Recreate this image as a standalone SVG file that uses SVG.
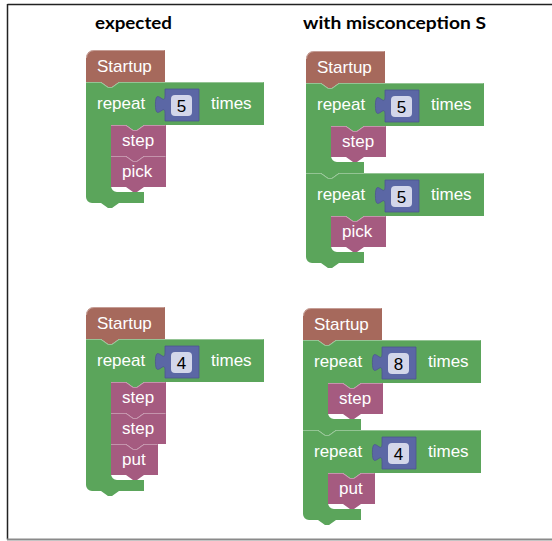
<svg xmlns="http://www.w3.org/2000/svg" xmlns:xlink="http://www.w3.org/1999/xlink" width="552" height="541" viewBox="0 0 552 541">
<style>
.hdr{font-family:Lato,"Liberation Sans",Arial,sans-serif;font-weight:bold;font-size:17px;fill:#000}
.lbl{font-family:"Liberation Sans",Arial,sans-serif;font-size:17px;fill:#fff}
.num{font-family:"Liberation Sans",Arial,sans-serif;font-size:17px;fill:#000;text-anchor:middle}
.start{fill:#a6695c}
.loop{fill:#5ba55b}
.stmt{fill:#a55b80}
.inp{fill:#5b67a5;stroke:#4c5690;stroke-width:0.8}
.fld{fill:#d3d6ea}
.hl{fill:none;stroke:#ffffff;stroke-opacity:0.35;stroke-width:1}
.frame{stroke:#222;stroke-width:1.5;fill:none}
</style>
<defs>
<path id="startup" d="M0,8 A8,8 0 0 1 8,0 H79 V32 H33 l-7,5 -4,0 -7,-5 H0 Z"/>
<path id="startup-hl" d="M0.5,8 A7.5,7.5 0 0 1 8,0.5 H78.5"/>
<path id="stmt55" d="M0,0 H15 l7,5 4,0 7,-5 H55 V31 H33 l-7,5 -4,0 -7,-5 H0 Z"/>
<path id="stmt55-hl" d="M0,0.5 H15 l7,5 4,0 7,-5 H54.5"/>
<path id="stmt47" d="M0,0 H15 l7,5 4,0 7,-5 H47 V31 H33 l-7,5 -4,0 -7,-5 H0 Z"/>
<path id="stmt47-hl" d="M0,0.5 H15 l7,5 4,0 7,-5 H46.5"/>
<path id="rep1" d="M0,0 H15 l7,5 4,0 7,-5 H178 V43 H58 l-7,5 -4,0 -7,-5 H25 V73 A6,6 0 0 0 31,79 H58 V90 H33 l-7,5 -4,0 -7,-5 H0 Z"/>
<path id="rep1r" d="M0,0 H15 l7,5 4,0 7,-5 H178 V43 H58 l-7,5 -4,0 -7,-5 H25 V73 A6,6 0 0 0 31,79 H58 V90 H33 l-7,5 -4,0 -7,-5 H6 A6,6 0 0 1 0,84 Z"/>
<path id="rep2r" d="M0,0 H15 l7,5 4,0 7,-5 H178 V43 H58 l-7,5 -4,0 -7,-5 H25 V104 A6,6 0 0 0 31,110 H58 V121 H33 l-7,5 -4,0 -7,-5 H6 A6,6 0 0 1 0,115 Z"/>
<path id="rep3r" d="M0,0 H15 l7,5 4,0 7,-5 H178 V43 H58 l-7,5 -4,0 -7,-5 H25 V135 A6,6 0 0 0 31,141 H58 V152 H33 l-7,5 -4,0 -7,-5 H6 A6,6 0 0 1 0,146 Z"/>
<path id="rep-hl" d="M0,0.5 H15 l7,5 4,0 7,-5 H177.5"/>
<path id="input" d="M79,39 V31.5 c0,-12 -9.6,9.6 -9.6,-9 s9.6,3 9.6,-9 V7 H113 V39 Z"/>
</defs>

<g id="frame">
<line class="frame" x1="7.5" y1="4.5" x2="552" y2="4.5"/>
<line class="frame" x1="7.5" y1="4" x2="7.5" y2="539.5"/>
<line x1="7" y1="539.5" x2="552" y2="539.5" stroke="#8a8a8a" stroke-width="2"/>
</g>

<g id="headers">
<text class="hdr" x="95" y="29" textLength="77" lengthAdjust="spacingAndGlyphs">expected</text>
<text class="hdr" x="303" y="29" textLength="183" lengthAdjust="spacingAndGlyphs">with misconception S</text>
</g>

<!-- Top-left: expected -->
<g id="tl-startup" transform="translate(86,50)">
<use href="#startup" class="start"/><use href="#startup-hl" class="hl"/>
<text class="lbl" x="11" y="22">Startup</text>
</g>
<g id="tl-repeat" transform="translate(86,82)">
<use href="#rep2r" class="loop"/><use href="#rep-hl" class="hl"/>
<text class="lbl" x="11" y="26.5">repeat</text>
<use href="#input" class="inp"/>
<rect class="fld" x="85" y="13" width="21" height="21" rx="4"/>
<text class="num" x="95.5" y="29.5">5</text>
<text class="lbl" x="125" y="26.5">times</text>
</g>
<g id="tl-step" transform="translate(111,125)">
<use href="#stmt55" class="stmt"/><use href="#stmt55-hl" class="hl"/>
<text class="lbl" x="11" y="21">step</text>
</g>
<g id="tl-pick" transform="translate(111,156)">
<use href="#stmt55" class="stmt"/><use href="#stmt55-hl" class="hl"/>
<text class="lbl" x="11" y="21">pick</text>
</g>

<!-- Top-right: with misconception S -->
<g id="tr-startup" transform="translate(306,51)">
<use href="#startup" class="start"/><use href="#startup-hl" class="hl"/>
<text class="lbl" x="11" y="22">Startup</text>
</g>
<g id="tr-repeat1" transform="translate(306,83)">
<use href="#rep1" class="loop"/><use href="#rep-hl" class="hl"/>
<text class="lbl" x="11" y="26.5">repeat</text>
<use href="#input" class="inp"/>
<rect class="fld" x="85" y="13" width="21" height="21" rx="4"/>
<text class="num" x="95.5" y="29.5">5</text>
<text class="lbl" x="125" y="26.5">times</text>
</g>
<g id="tr-step" transform="translate(331,126)">
<use href="#stmt55" class="stmt"/><use href="#stmt55-hl" class="hl"/>
<text class="lbl" x="11" y="21">step</text>
</g>
<g id="tr-repeat2" transform="translate(306,173)">
<use href="#rep1r" class="loop"/><use href="#rep-hl" class="hl"/>
<text class="lbl" x="11" y="26.5">repeat</text>
<use href="#input" class="inp"/>
<rect class="fld" x="85" y="13" width="21" height="21" rx="4"/>
<text class="num" x="95.5" y="29.5">5</text>
<text class="lbl" x="125" y="26.5">times</text>
</g>
<g id="tr-pick" transform="translate(331,216)">
<use href="#stmt55" class="stmt"/><use href="#stmt55-hl" class="hl"/>
<text class="lbl" x="11" y="21">pick</text>
</g>

<!-- Bottom-left: expected -->
<g id="bl-startup" transform="translate(86,307)">
<use href="#startup" class="start"/><use href="#startup-hl" class="hl"/>
<text class="lbl" x="11" y="22">Startup</text>
</g>
<g id="bl-repeat" transform="translate(86,339)">
<use href="#rep3r" class="loop"/><use href="#rep-hl" class="hl"/>
<text class="lbl" x="11" y="26.5">repeat</text>
<use href="#input" class="inp"/>
<rect class="fld" x="85" y="13" width="21" height="21" rx="4"/>
<text class="num" x="95.5" y="29.5">4</text>
<text class="lbl" x="125" y="26.5">times</text>
</g>
<g id="bl-step1" transform="translate(111,382)">
<use href="#stmt55" class="stmt"/><use href="#stmt55-hl" class="hl"/>
<text class="lbl" x="11" y="21">step</text>
</g>
<g id="bl-step2" transform="translate(111,413)">
<use href="#stmt55" class="stmt"/><use href="#stmt55-hl" class="hl"/>
<text class="lbl" x="11" y="21">step</text>
</g>
<g id="bl-put" transform="translate(111,444)">
<use href="#stmt47" class="stmt"/><use href="#stmt47-hl" class="hl"/>
<text class="lbl" x="11" y="21">put</text>
</g>

<!-- Bottom-right: with misconception S -->
<g id="br-startup" transform="translate(303,308)">
<use href="#startup" class="start"/><use href="#startup-hl" class="hl"/>
<text class="lbl" x="11" y="22">Startup</text>
</g>
<g id="br-repeat1" transform="translate(303,340)">
<use href="#rep1" class="loop"/><use href="#rep-hl" class="hl"/>
<text class="lbl" x="11" y="26.5">repeat</text>
<use href="#input" class="inp"/>
<rect class="fld" x="85" y="13" width="21" height="21" rx="4"/>
<text class="num" x="95.5" y="29.5">8</text>
<text class="lbl" x="125" y="26.5">times</text>
</g>
<g id="br-step" transform="translate(328,383)">
<use href="#stmt55" class="stmt"/><use href="#stmt55-hl" class="hl"/>
<text class="lbl" x="11" y="21">step</text>
</g>
<g id="br-repeat2" transform="translate(303,430)">
<use href="#rep1r" class="loop"/><use href="#rep-hl" class="hl"/>
<text class="lbl" x="11" y="26.5">repeat</text>
<use href="#input" class="inp"/>
<rect class="fld" x="85" y="13" width="21" height="21" rx="4"/>
<text class="num" x="95.5" y="29.5">4</text>
<text class="lbl" x="125" y="26.5">times</text>
</g>
<g id="br-put" transform="translate(328,473)">
<use href="#stmt47" class="stmt"/><use href="#stmt47-hl" class="hl"/>
<text class="lbl" x="11" y="21">put</text>
</g>
</svg>
